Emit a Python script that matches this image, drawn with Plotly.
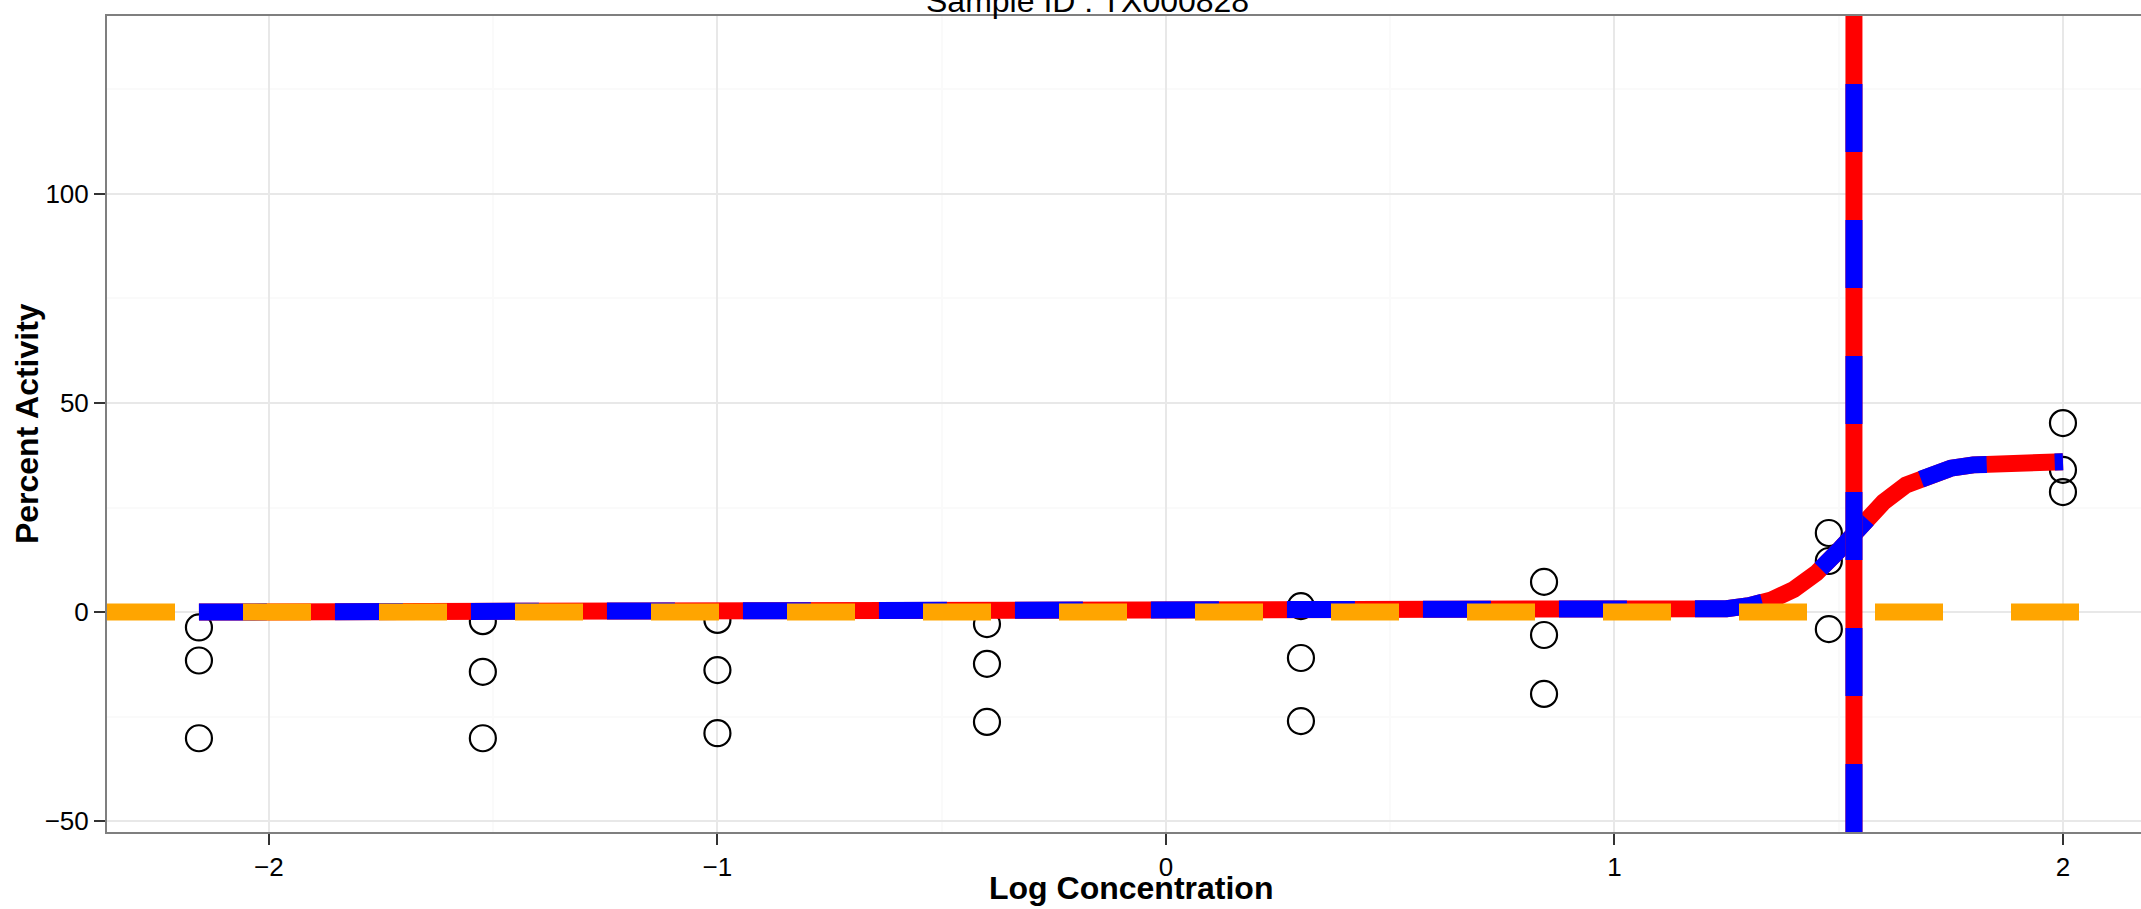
import plotly.graph_objects as go

# ---- data ----
log_conc = [-2.156, -2.156, -2.156,
            -1.523, -1.523, -1.523,
            -1.0, -1.0, -1.0,
            -0.399, -0.399, -0.399,
            0.301, 0.301, 0.301,
            0.843, 0.843, 0.843,
            1.478, 1.478, 1.478,
            2.0, 2.0, 2.0]
activity = [-3.7, -11.6, -30.2,
            -2.2, -14.3, -30.2,
            -1.9, -13.9, -29.0,
            -2.9, -12.4, -26.3,
            1.4, -11.0, -26.1,
            7.2, -5.5, -19.6,
            18.9, 12.2, -4.1,
            45.2, 34.0, 28.7]

curve_x = [-2.156, -1.5, -1.0, -0.5, 0.0, 0.5, 1.0, 1.1, 1.2, 1.25, 1.3, 1.35,
           1.4, 1.45, 1.5, 1.55, 1.6, 1.65, 1.7, 1.75, 1.8, 1.85, 1.9, 1.95, 2.0]
curve_y = [0.0, 0.0, 0.0, 0.0, 0.0, 0.0, 0.05, 0.1, 0.4, 0.8, 1.5, 2.9,
           5.4, 9.3, 14.7, 20.8, 26.3, 30.4, 32.9, 34.4, 35.2, 35.6, 35.8, 35.9, 35.95]

ac50 = 1.534
baseline = 0.0

x_range = [-2.361, 2.174]
y_range = [-52.63, 142.58]

x_ticks = [-2, -1, 0, 1, 2]
x_ticktext = ["\u22122", "\u22121", "0", "1", "2"]
y_ticks = [-50, 0, 50, 100]
y_ticktext = ["\u221250", "0", "50", "100"]

title_text = "Sample ID : TX000828"
x_title = "Log Concentration"
y_title = "Percent Activity"

FONT = "Liberation Sans, Arial, Helvetica, sans-serif"
LW = 17
DASH = "68px,68px"

fig = go.Figure()

# points
fig.add_trace(go.Scatter(x=log_conc, y=activity, mode="markers",
                         marker=dict(symbol="circle-open", size=26, color="black",
                                     line=dict(width=2.2, color="black")),
                         hoverinfo="skip"))
# fitted curve: red solid + blue dashed
fig.add_trace(go.Scatter(x=curve_x, y=curve_y, mode="lines",
                         line=dict(color="#FF0000", width=LW), hoverinfo="skip"))
fig.add_trace(go.Scatter(x=curve_x, y=curve_y, mode="lines",
                         line=dict(color="#0000FF", width=LW, dash=DASH), hoverinfo="skip"))
# AC50 vertical line: red solid + blue dashed
fig.add_trace(go.Scatter(x=[ac50, ac50], y=[y_range[0], y_range[1]], mode="lines",
                         line=dict(color="#FF0000", width=LW), hoverinfo="skip"))
fig.add_trace(go.Scatter(x=[ac50, ac50], y=[y_range[0], y_range[1]], mode="lines",
                         line=dict(color="#0000FF", width=LW, dash=DASH), hoverinfo="skip"))
# baseline orange dashed
fig.add_trace(go.Scatter(x=[x_range[0], x_range[1]], y=[baseline, baseline], mode="lines",
                         line=dict(color="#FFA500", width=LW, dash=DASH), hoverinfo="skip"))

axis_common = dict(
    showline=True, linecolor="#7F7F7F", linewidth=2,
    ticks="outside", ticklen=11, tickwidth=2, tickcolor="#333333",
    gridcolor="#E8E8E8", gridwidth=1.5, zeroline=False,
    tickfont=dict(family=FONT, size=26, color="black"),
)

fig.update_layout(
    width=2141, height=909,
    margin=dict(l=107, r=0, t=16, b=77),
    paper_bgcolor="white", plot_bgcolor="white",
    showlegend=False,
    font=dict(family=FONT, color="black"),
    xaxis=dict(range=x_range, tickmode="array", tickvals=x_ticks, ticktext=x_ticktext,
               mirror=True,
               minor=dict(dtick=0.5, tick0=0, showgrid=True, gridcolor="#FAFAFA",
                          gridwidth=1.5, ticks=""),
               **axis_common),
    yaxis=dict(range=y_range, tickmode="array", tickvals=y_ticks, ticktext=y_ticktext,
               minor=dict(dtick=25, tick0=0, showgrid=True, gridcolor="#FAFAFA",
                          gridwidth=1.5, ticks=""),
               **axis_common),
    annotations=[
        dict(text=title_text, xref="paper", yref="paper", x=0.4823, y=1,
             xanchor="center", yanchor="middle", yshift=15, showarrow=False,
             font=dict(family=FONT, size=32, color="black")),
        dict(text="<b>" + x_title + "</b>", xref="paper", yref="paper", x=0.5034, y=-0.0686,
             xanchor="center", yanchor="middle", showarrow=False,
             font=dict(family=FONT, size=32, color="black")),
        dict(text="<b>" + y_title + "</b>", xref="paper", yref="paper", x=-0.0393, y=0.5,
             xanchor="center", yanchor="middle", textangle=-90, showarrow=False,
             font=dict(family=FONT, size=32, color="black")),
    ],
)

fig.write_html("out.html",
               config={"displayModeBar": False},
               post_script="document.body.style.margin='0';document.body.style.padding='0';"
                           "document.body.style.overflow='hidden';")
